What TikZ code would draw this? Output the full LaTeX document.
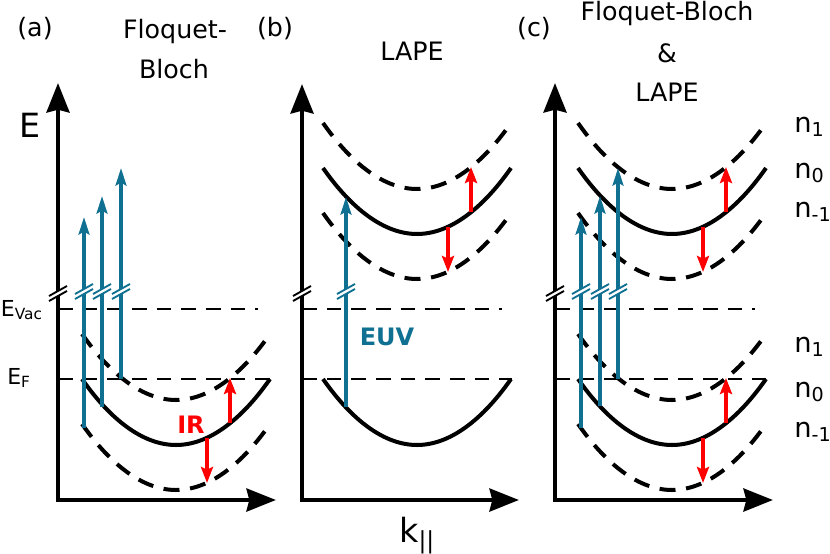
\documentclass[tikz,border=0pt]{standalone}
\usepackage{fontspec}
\setmainfont{DejaVu Sans}
\usetikzlibrary{arrows.meta}

\definecolor{euvblue}{RGB}{16,112,146}
\definecolor{irred}{RGB}{255,0,0}

\tikzset{
  axis/.style={line width=3.6pt, {Stealth[length=22pt,width=17pt,inset=2pt]}-{Stealth[length=22pt,width=17pt,inset=2pt]}},
  band/.style={line width=3pt},
  sideband/.style={line width=3pt, dash pattern=on 12pt off 8pt},
  level/.style={line width=2.2pt, dash pattern=on 11pt off 7.5pt},
  euv/.style={euvblue, line width=3pt, -{Stealth[length=13pt,width=8pt,inset=2pt]}},
  ir/.style={irred, line width=3.3pt, -{Stealth[length=12pt,width=9pt,inset=2pt]}},
  title/.style={font=\fontsize{19}{23}\selectfont, anchor=base, inner sep=0pt},
  energy/.style={font=\fontsize{16.5}{20}\selectfont, anchor=base east, inner sep=0pt},
  order/.style={font=\fontsize{20.5}{24}\selectfont, anchor=base west, inner sep=0pt},
  beam/.style={font=\bfseries\fontsize{18}{22}\selectfont, anchor=base, inner sep=0pt},
}

% n1, n0, n-1 bands: #1 left x, #2 height of the n0 ends
\newcommand{\bandtriple}[2]{%
  \draw[sideband] (#1,#2-45) parabola bend (#1+94,#2+21) (#1+188,#2-45);
  \draw[band] (#1,#2) parabola bend (#1+94,#2+66) (#1+188,#2);
  \draw[sideband] (#1,#2+45) parabola bend (#1+94,#2+111) (#1+188,#2+45);
}
% break mark: #1 x, #2 y, #3 colour
\newcommand{\gapmark}[3]{%
  \fill[white] (#1-9,#2+7) -- (#1+9,#2-3) -- (#1+9,#2-8) -- (#1-9,#2+2) -- cycle;
  \draw[#3, line width=1.4pt] (#1-9,#2+7) -- (#1+9,#2-3) (#1-9,#2+2) -- (#1+9,#2-8);
}

\begin{document}
\begin{tikzpicture}[x=0.75pt,y=0.75pt,yscale=-1,xscale=1]
  \useasboundingbox (0,0) rectangle (830,553);

  % axes
  \coordinate (oa) at (58,500);  \coordinate (ya) at (58,83);  \coordinate (xa) at (276,500);
  \coordinate (ob) at (302,500); \coordinate (yb) at (302,84); \coordinate (xb) at (519,500);
  \coordinate (oc) at (555,500); \coordinate (yc) at (555,83); \coordinate (xc) at (773,500);

  % vacuum and Fermi levels
  \draw[level] (58,309) -- (258,309);
  \draw[level] (58,379) -- (270,379);
  \draw[level] (302,309) -- (502,309);
  \draw[level] (302,379) -- (512,379);
  \draw[level] (555,309) -- (755,309);
  \draw[level] (555,379) -- (766,379);

  % bands
  \bandtriple{82}{379}
  \bandtriple{323}{168}
  \draw[band] (323,379) parabola bend (417,445) (511,379);
  \bandtriple{578}{168}
  \bandtriple{578}{379}

  % EUV photons
  \coordinate (pa1) at (84,428);  \coordinate (qa1) at (84,217);
  \coordinate (pa2) at (102,407); \coordinate (qa2) at (102,196);
  \coordinate (pa3) at (121,379); \coordinate (qa3) at (121,168);
  \coordinate (pb)  at (346,407); \coordinate (qb)  at (346,197);
  \coordinate (pc1) at (581,428); \coordinate (qc1) at (581,217);
  \coordinate (pc2) at (600,406); \coordinate (qc2) at (600,196);
  \coordinate (pc3) at (618,379); \coordinate (qc3) at (618,168);
  \draw[euv] (pa1) -- (qa1);
  \draw[euv] (pa2) -- (qa2);
  \draw[euv] (pa3) -- (qa3);
  \draw[euv] (pb) -- (qb);
  \draw[euv] (pc1) -- (qc1);
  \draw[euv] (pc2) -- (qc2);
  \draw[euv] (pc3) -- (qc3);

  % IR dressing
  \coordinate (ua)  at (230,423); \coordinate (ua')  at (230,378);
  \coordinate (da)  at (207,438); \coordinate (da')  at (207,483);
  \coordinate (ub)  at (471,212); \coordinate (ub')  at (471,167);
  \coordinate (db)  at (448,227); \coordinate (db')  at (448,272);
  \coordinate (uc)  at (726,212); \coordinate (uc')  at (726,167);
  \coordinate (dc)  at (703,227); \coordinate (dc')  at (703,272);
  \coordinate (uc2) at (726,423); \coordinate (uc2') at (726,378);
  \coordinate (dc2) at (703,438); \coordinate (dc2') at (703,483);
  \draw[ir] (ua) -- (ua');
  \draw[ir] (da) -- (da');
  \draw[ir] (ub) -- (ub');
  \draw[ir] (db) -- (db');
  \draw[ir] (uc) -- (uc');
  \draw[ir] (dc) -- (dc');
  \draw[ir] (uc2) -- (uc2');
  \draw[ir] (dc2) -- (dc2');

  \draw[axis] (ya) -- (oa) -- (xa);
  \draw[axis] (yb) -- (ob) -- (xb);
  \draw[axis] (yc) -- (oc) -- (xc);

  % breaks
  \gapmark{58}{294}{black}
  \gapmark{302}{294}{black}
  \gapmark{555}{294}{black}
  \gapmark{84}{292}{euvblue}
  \gapmark{102}{292}{euvblue}
  \gapmark{121}{292}{euvblue}
  \gapmark{346}{292}{euvblue}
  \gapmark{581}{292}{euvblue}
  \gapmark{600}{292}{euvblue}
  \gapmark{618}{292}{euvblue}

  % labels
  \node[title] (tagA) at (35,36) {(a)};
  \node[title] (headA1) at (175,38) {Floquet-};
  \node[title] (headA2) at (174,78) {Bloch};
  \node[title] (tagB) at (275,36) {(b)};
  \node[title] (headB) at (412,60) {LAPE};
  \node[title] (tagC) at (534,36) {(c)};
  \node[title] (headC1) at (667,21) {Floquet-Bloch};
  \node[title] (headC2) at (667,62) {\&};
  \node[title] (headC3) at (667,101) {LAPE};

  \node[font=\fontsize{25}{30}\selectfont, inner sep=0pt] (eaxis) at (30,125) {E};
  \node[font=\fontsize{25}{30}\selectfont, anchor=base west, inner sep=0pt] (kaxis) at (399,542) {k\textsubscript{||}};
  \node[energy] (evac) at (43,316) {E\textsubscript{Vac}};
  \node[energy] (efermi) at (31,384) {E\textsubscript{F}};

  \node[beam, text=euvblue] (euvlbl) at (387,345) {EUV};
  \node[beam, text=irred] (irlbl) at (191,433) {IR};

  \node[order] (nup1) at (794,132) {n\textsubscript{1}};
  \node[order] (nup0) at (794,178) {n\textsubscript{0}};
  \node[order] (nupm) at (794,217) {n\textsubscript{-1}};
  \node[order] (nlo1) at (794,352) {n\textsubscript{1}};
  \node[order] (nlo0) at (794,397) {n\textsubscript{0}};
  \node[order] (nlom) at (794,437) {n\textsubscript{-1}};
\end{tikzpicture}
\end{document}
